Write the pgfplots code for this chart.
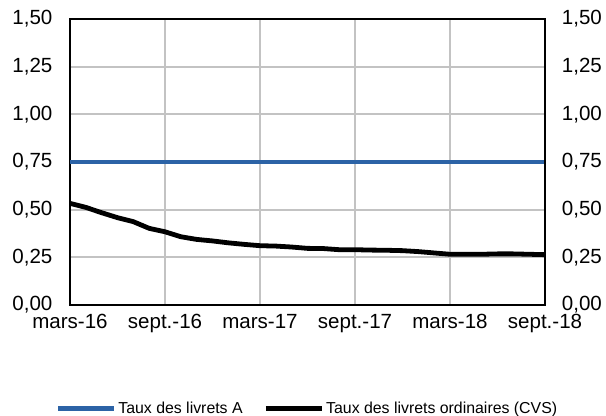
\documentclass[border=0pt]{standalone}
\usepackage{pgfplots}
\pgfplotsset{compat=1.18}
\usepackage{fontspec}
\setmainfont{Liberation Sans}
\definecolor{bleuA}{RGB}{44,99,166}
\definecolor{grille}{RGB}{195,195,195}

\begin{document}
\begin{tikzpicture}
% canvas: 1px = 0.75pt, axis box at (70,19)-(545,305) px
\path[use as bounding box] (-52.5pt,-83.25pt) rectangle (402pt,228.75pt);

\begin{axis}[%
width=356.25pt,
height=214.5pt,
at={(0pt,0pt)},
anchor=south west,
scale only axis,
xmin=0, xmax=30,
ymin=0, ymax=1.5,
xtick={0,6,12,18,24,30},
xticklabels={mars-16,sept.-16,mars-17,sept.-17,mars-18,sept.-18},
ytick={0,0.25,0.5,0.75,1,1.25,1.5},
yticklabels={{0,00},{0,25},{0,50},{0,75},{1,00},{1,25},{1,50}},
major tick length=0pt,
xmajorgrids, ymajorgrids,
grid style={grille, line width=1.5pt},
axis line style={black, line width=1pt},
tick label style={font=\fontsize{15.4pt}{17pt}\selectfont, text=black},
yticklabel style={inner sep=0pt, xshift=-13pt},
xticklabel style={inner sep=0pt, yshift=-7pt},
legend style={at={(0.5,-0.362)}, anchor=center, draw=none, fill=none,
  legend columns=2, font=\fontsize{11.9pt}{13pt}\selectfont,
  nodes={inner sep=1.5pt},
  /tikz/every even column/.append style={column sep=14pt},
  inner sep=0pt},
legend image code/.code={\draw[#1] (0pt,0pt) -- (42pt,0pt);},
legend cell align=left,
]
\addplot[bleuA, line width=3.4pt] table[row sep=crcr] {%
0 0.75\\
30 0.75\\
};
\addlegendentry{Taux des livrets A}
\addplot[black, line width=3.6pt, line join=round] table[row sep=crcr] {%
0 0.533\\
1 0.512\\
2 0.484\\
3 0.458\\
4 0.437\\
5 0.402\\
6 0.384\\
7 0.358\\
8 0.344\\
9 0.336\\
10 0.326\\
11 0.318\\
12 0.311\\
13 0.309\\
14 0.304\\
15 0.297\\
16 0.296\\
17 0.290\\
18 0.290\\
19 0.288\\
20 0.287\\
21 0.285\\
22 0.280\\
23 0.273\\
24 0.266\\
25 0.266\\
26 0.266\\
27 0.268\\
28 0.268\\
29 0.266\\
30 0.264\\
};
\addlegendentry{Taux des livrets ordinaires (CVS)}
\end{axis}

\begin{axis}[%
width=356.25pt,
height=214.5pt,
at={(0pt,0pt)},
anchor=south west,
scale only axis,
xmin=0, xmax=30,
ymin=0, ymax=1.5,
axis x line=none,
axis y line*=right,
ytick={0,0.25,0.5,0.75,1,1.25,1.5},
yticklabels={{0,00},{0,25},{0,50},{0,75},{1,00},{1,25},{1,50}},
major tick length=0pt,
axis line style={black, line width=1pt},
tick label style={font=\fontsize{15.4pt}{17pt}\selectfont, text=black},
yticklabel style={inner sep=0pt, xshift=12.5pt},
]
\addplot[draw=none] coordinates {(0,0)};
\end{axis}
\end{tikzpicture}
\end{document}
